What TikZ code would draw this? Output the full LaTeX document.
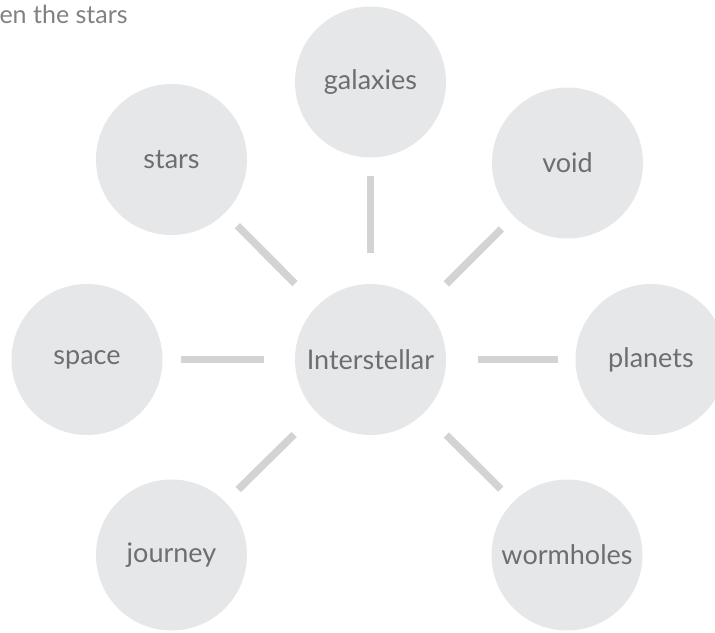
\documentclass[tikz,border=0pt]{standalone}
\usepackage{fontspec}
\setmainfont{Lato}
\usepackage{xcolor}
\definecolor{cinzaC}{HTML}{E6E7E8}
\definecolor{cinzaL}{HTML}{D1D3D4}
\definecolor{cinzaT}{HTML}{6D6E71}
\definecolor{cinzaTit}{HTML}{7F8184}
\usepackage{tikz}
\usetikzlibrary{calc}

\begin{document}
\begin{tikzpicture}[x=1pt,y=-1pt,
    bolha/.style={circle, fill=cinzaC, minimum size=151pt, inner sep=0pt,
      outer sep=0pt, font=\fontsize{27}{32}\selectfont, text=cinzaT},
    ligacao/.style={draw=cinzaL, line width=7.5pt,
      shorten <=31.5pt, shorten >=18pt}]
        \useasboundingbox (0,0) rectangle (715,632);
        \clip (0,0) rectangle (715,632);
        \node[font=\fontsize{25}{30}\selectfont, text=cinzaTit, anchor=base west]
        (titulo) at (-4,23) {en the stars};
        \node[bolha] (centro) at (370.5,359.5) {Interstellar};
        \foreach \nome/\px/\py/\txt in {
          galaxias/370.5/82/galaxies,
          estrelas/171.5/159.5/stars,
          vazio/567.5/163/void,
          espaco/87/359.5/space,
          planetas/651/359.5/planets,
          viagem/171.5/555/journey,
          buracos/567/555/wormholes%
        }{
          \node[bolha] (\nome) at (\px,\py) {\txt};
          \draw[ligacao] (centro) -- (\nome);
        }
      \end{tikzpicture}
\end{document}
